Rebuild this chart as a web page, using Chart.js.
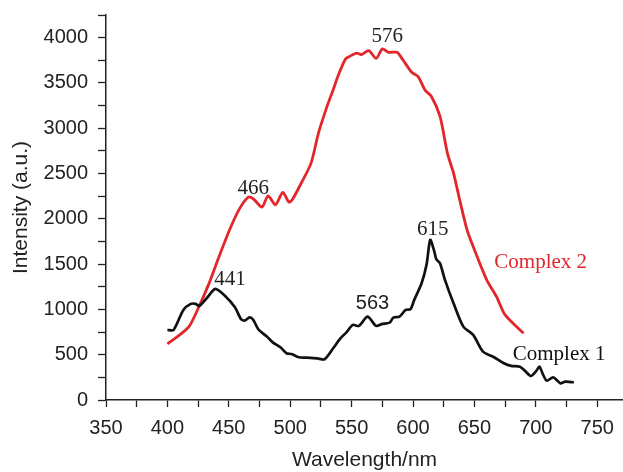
<!DOCTYPE html>
<html>
<head>
<meta charset="utf-8">
<script src="https://cdn.jsdelivr.net/npm/chart.js@4"></script>
<style>
  html, body { margin: 0; padding: 0; background: #fff; }
  #wrap { width: 623px; height: 472px; }
</style>
</head>
<body>
<div id="wrap"><canvas id="spectra"></canvas></div>
<script>
// Complex 1 (black)
const wavelength1 = [400, 405, 413, 419, 423, 426, 432, 439, 447, 455, 460, 463, 467, 470, 474, 481, 486, 492, 497, 501,
    507, 513, 522, 528, 535, 541, 546, 551, 556, 563, 570, 575, 581, 584, 589, 594, 598, 601, 607, 611,
    614, 617, 619, 622, 626, 633, 641, 649, 657, 666, 674, 680, 687, 691, 696, 700, 703, 706, 709, 714,
    717, 720, 724, 731];
const intensity1 = [773, 773, 994, 1061, 1061, 1039, 1123, 1226, 1149, 1024, 891, 876, 913, 884, 781, 700, 634, 582, 516, 508,
    472, 468, 460, 450, 571, 682, 750, 829, 818, 920, 818, 840, 854, 910, 920, 994, 1002, 1105, 1289, 1492,
    1768, 1657, 1554, 1510, 1326, 1068, 810, 718, 534, 472, 405, 376, 368, 324, 265, 313, 368, 276, 213, 251,
    221, 184, 202, 196];

// Complex 2 (red)
const wavelength2 = [400, 410, 418, 426, 434, 442, 451, 459, 466, 470, 477, 482, 488, 494, 499, 502, 509, 517, 523, 530,
    535, 539, 545, 548, 554, 558, 564, 570, 575, 580, 587, 592, 599, 604, 610, 615, 622, 628, 633, 638,
    644, 649, 660, 668, 675, 690];
const intensity2 = [620, 718, 818, 1039, 1290, 1580, 1890, 2118, 2240, 2220, 2130, 2254, 2155, 2291, 2184, 2218, 2394, 2615, 2946, 3241,
    3425, 3580, 3764, 3790, 3830, 3812, 3856, 3771, 3875, 3838, 3838, 3750, 3617, 3573, 3418, 3351, 3130, 2726, 2505, 2210,
    1878, 1694, 1326, 1141, 939, 737];

// peak labels and series names, placed in data units
const noteText  = ['466', '576', '441', '563', '615', 'Complex 2', 'Complex 1'];
const noteX     = [470, 579, 451, 567, 616, 704, 719];
const noteY     = [2340, 4015, 1326, 1068, 1878, 1517, 505];
const noteColor = ['#222', '#222', '#222', '#222', '#222', '#e3262b', '#111'];
const noteFont  = ['serif', 'serif', 'serif', 'sans', 'serif', 'serif', 'serif'];

const xTicks = [350, 375, 400, 425, 450, 475, 500, 525, 550, 575, 600, 625, 650, 675, 700, 725, 750];
const yTicks = [0, 250, 500, 750, 1000, 1250, 1500, 1750, 2000, 2250, 2500, 2750, 3000, 3250, 3500, 3750, 4000, 4250];

const toPoints = (xs, ys) => xs.map((x, i) => ({ x: x, y: ys[i] }));

const notes = {
    id: 'notes',
    afterDatasetsDraw(chart) {
        const ctx = chart.ctx;
        const sx = chart.scales.x, sy = chart.scales.y;
        ctx.save();
        ctx.textAlign = 'center';
        ctx.textBaseline = 'middle';
        noteText.forEach((t, i) => {
            ctx.font = noteFont[i] === 'serif'
                ? '21px "Liberation Serif", "DejaVu Serif", serif'
                : '20px "Liberation Sans", Arial, sans-serif';
            ctx.fillStyle = noteColor[i];
            ctx.fillText(t, sx.getPixelForValue(noteX[i]), sy.getPixelForValue(noteY[i]));
        });
        ctx.restore();
    }
};

const tickFont = { family: '"Liberation Sans", Arial, sans-serif', size: 20 };
const titleFont = { family: '"Liberation Sans", Arial, sans-serif', size: 21 };

new Chart(document.getElementById('spectra'), {
    type: 'line',
    data: {
        datasets: [
            {
                label: 'Complex 1',
                data: toPoints(wavelength1, intensity1),
                borderColor: '#111111',
                borderWidth: 2.7,
                pointRadius: 0,
                tension: 0.25,
                fill: false
            },
            {
                label: 'Complex 2',
                data: toPoints(wavelength2, intensity2),
                borderColor: '#e3262b',
                borderWidth: 2.8,
                pointRadius: 0,
                tension: 0.25,
                fill: false
            }
        ]
    },
    options: {
        responsive: true,
        maintainAspectRatio: false,
        animation: false,
        layout: { padding: { top: 15, right: 0, left: 0, bottom: 0 } },
        plugins: {
            legend: { display: false },
            tooltip: { enabled: false }
        },
        scales: {
            x: {
                type: 'linear',
                min: 350,
                max: 771,
                afterBuildTicks: s => { s.ticks = xTicks.map(v => ({ value: v })); },
                afterFit: s => {
                    s.height = 72;
                    s.paddingLeft = 0;
                    s.paddingRight = 0;
                },
                ticks: {
                    autoSkip: false,
                    maxRotation: 0,
                    padding: 9,
                    color: '#222',
                    font: tickFont,
                    callback: v => (v % 50 === 0 ? v : '')
                },
                grid: {
                    drawOnChartArea: false,
                    drawTicks: true,
                    tickLength: 7,
                    tickColor: '#222',
                    tickWidth: 1.3
                },
                border: { display: true, color: '#222', width: 1.5 },
                title: {
                    display: true,
                    text: 'Wavelength/nm',
                    color: '#222',
                    font: titleFont,
                    padding: { top: 0, bottom: -1 }
                }
            },
            y: {
                min: 0,
                max: 4250,
                afterBuildTicks: s => { s.ticks = yTicks.map(v => ({ value: v })); },
                afterFit: s => {
                    s.width = 106;
                    s.paddingTop = 0;
                    s.paddingBottom = 0;
                },
                ticks: {
                    autoSkip: false,
                    padding: 10,
                    color: '#222',
                    font: tickFont,
                    callback: v => (v % 500 === 0 ? v : '')
                },
                grid: {
                    drawOnChartArea: false,
                    drawTicks: true,
                    tickLength: 8,
                    tickColor: '#222',
                    tickWidth: 1.3
                },
                border: { display: true, color: '#222', width: 1.5 },
                title: {
                    display: true,
                    text: 'Intensity (a.u.)',
                    color: '#222',
                    font: titleFont,
                    padding: { top: 9, bottom: 0 }
                }
            }
        }
    },
    plugins: [notes]
});
</script>
</body>
</html>
